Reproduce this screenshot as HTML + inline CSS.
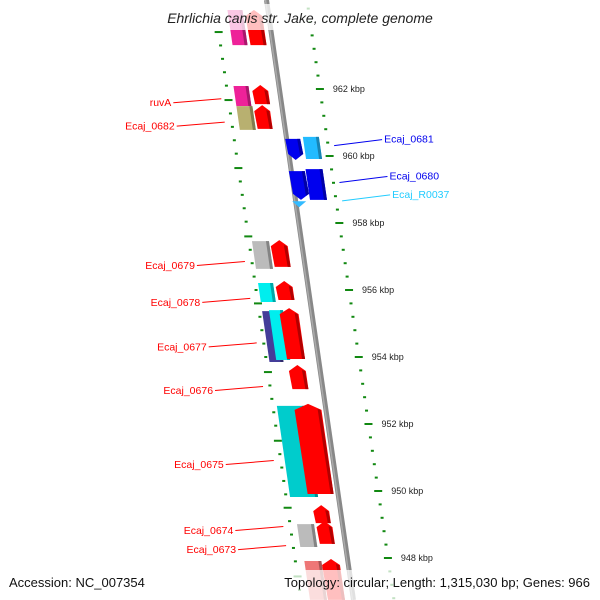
<!DOCTYPE html>
<html><head><meta charset="utf-8"><style>
html,body{margin:0;padding:0;background:#fff}
svg{display:block;font-family:"Liberation Sans","DejaVu Sans",sans-serif}
</style></head><body>
<svg id="map" width="600" height="600" viewBox="0 0 600 600">
<g id="ticks"></g>
<line id="backbone" x1="266.5" y1="0" x2="353.5" y2="600" stroke="#888" stroke-width="5"/>
<line x1="265.5" y1="0" x2="352.5" y2="600" stroke="#aaa" stroke-width="1.5"/>
<g id="feats"></g>
<g id="labels"></g>
<rect x="150" y="4" width="300" height="26" fill="#fff" opacity="0.75"/>
<text x="300" y="23" text-anchor="middle" font-size="14" font-style="italic" fill="#222">Ehrlichia canis str. Jake, complete genome</text>
<rect x="270" y="570" width="330" height="30" fill="#fff" opacity="0.75"/>
<text x="9" y="587" font-size="13" fill="#111">Accession: NC_007354</text>
<text x="590" y="587" text-anchor="end" font-size="13" fill="#111">Topology: circular; Length: 1,315,030 bp; Genes: 966</text>
</svg>
<script>
// data
const featNames=["top-gene-a","top-gene-b","ruvA","ruvA-partner","Ecaj_0682","Ecaj_0682-partner","Ecaj_0681","Ecaj_0681-partner","Ecaj_0680","Ecaj_0680-partner","Ecaj_R0037","Ecaj_0679","Ecaj_0679-partner","Ecaj_0678","Ecaj_0678-partner","Ecaj_0677-a","Ecaj_0677","Ecaj_0677-partner","Ecaj_0676","Ecaj_0675","Ecaj_0675-partner","Ecaj_0674","Ecaj_0673","Ecaj_0673-partner","bottom-gene-a","bottom-gene-b"];
const featStart=[964.36,964.36,962.09,962.12,961.49,961.52,960.51,960.57,959.55,959.61,958.65,957.46,957.49,956.21,956.27,955.37,955.40,955.46,953.76,952.54,952.60,949.58,949.01,949.10,947.91,947.97];
const featEnd=[963.31,963.31,961.49,961.55,960.78,960.81,959.88,959.91,958.69,958.69,958.50,956.63,956.69,955.64,955.70,953.85,953.91,953.94,953.04,949.82,949.91,949.04,948.33,948.42,946.75,946.75];
const featKind=["box","fwd","box","fwd","box","fwd","rev","box","rev","box","tri","box","fwd","box","fwd","box","box","fwd","fwd","box","fwd","fwd","box","fwd","box","fwd"];
const featColor=["#ee2299","#ff0000","#ee2299","#ff0000","#b8b070","#ff0000","#0000ee","#22bbff","#0000ee","#0000ee","#33bbff","#bbbbbb","#ff0000","#00eeee","#ff0000","#443d99","#00eeee","#ff0000","#ff0000","#00cccc","#ff0000","#ff0000","#bbbbbb","#ff0000","#ee7777","#ff0000"];
const laneOffset=[-38,-20,-43,-24,-43,-25,1,19,0,17,0,-47,-28,-47,-29,-47,-40,-29,-28,-46,-28,-24,-43,-23,-41,-23];
const laneWidth=[15,16,15,15,16,15,15,16,16,17,14,17,16,15,16,14,14,18,16,28,26,15,17,15,17,17];
const labelText=["ruvA","Ecaj_0682","Ecaj_0681","Ecaj_0680","Ecaj_R0037","Ecaj_0679","Ecaj_0678","Ecaj_0677","Ecaj_0676","Ecaj_0675","Ecaj_0674","Ecaj_0673"];
const labelKbp=[961.71,961.01,960.31,959.21,958.66,956.85,955.75,954.42,953.12,950.91,948.94,948.37];
const labelSide=["L","L","R","R","R","L","L","L","L","L","L","L"];
const labelColor=["#ff0000","#ff0000","#0000ee","#0000ee","#22ccff","#ff0000","#ff0000","#ff0000","#ff0000","#ff0000","#ff0000","#ff0000"];
const majorTicks=["962 kbp","960 kbp","958 kbp","956 kbp","954 kbp","952 kbp","950 kbp","948 kbp"];
const majorKbp=[962,960,958,956,954,952,950,948];
const leftMajorKbp=[963.7,961.67,959.64,957.6,955.6,953.55,951.5,949.5,947.45];

const NS="http://www.w3.org/2000/svg";
const yOf=k=>89+(962-k)*33.5;
const B=y=>264+0.145*y;
function mk(tag,attrs,parent){const e=document.createElementNS(NS,tag);for(const k in attrs)e.setAttribute(k,attrs[k]);parent.appendChild(e);return e;}
function shade(c,f){const n=parseInt(c.slice(1),16);let r=(n>>16)&255,g=(n>>8)&255,b=n&255;return `rgb(${Math.round(r*f)},${Math.round(g*f)},${Math.round(b*f)})`;}

// ticks
const tg=document.getElementById('ticks');
for(let k=964.4;k>=946.5;k-=0.4){
  const y=yOf(k);if(y<0||y>600)continue;
  const maj=majorKbp.some(m=>Math.abs(m-k)<0.05);
  const x=B(y)+43;
  const t=mk('rect',{x:maj?x-4:x-1.5,y:y-1,width:maj?8:3,height:2,fill:'#118811'},tg);
  
  
}
for(let i=0;i<majorKbp.length;i++){
  const y=yOf(majorKbp[i]);
  const t=mk('text',{x:B(y)+56,y:y+3,'font-size':9,fill:'#222'},tg);t.textContent=majorTicks[i];
  
  
}
for(let i=0;i<leftMajorKbp.length;i++){
  for(let j=0;j<5;j++){
    const y=yOf(leftMajorKbp[i]-j*0.4);if(y<0||y>600)continue;
    const x=B(y)-50;
    const t=mk('rect',{x:j?x-1.5:x-4,y:y-1,width:j?3:8,height:2,fill:'#118811'},tg);
    
    
  }
}
// features
const fg=document.getElementById('feats');
for(let i=0;i<featNames.length;i++){
  const y1=yOf(featStart[i]),y2=yOf(featEnd[i]);
  const a=B(y1)+laneOffset[i],b=B(y2)+laneOffset[i],w=laneWidth[i],c=featColor[i],kind=featKind[i];
  let pts;
  if(kind==='box')pts=[[a,y1],[a+w,y1],[b+w,y2],[b,y2]];
  else if(kind==='fwd'){const h=6,am=a+w/2+0.145*h/2;pts=[[a,y1+h],[am,y1],[a+w+0.9,y1+h],[b+w,y2],[b,y2]];}
  else if(kind==='rev'){const h=6;pts=[[a,y1],[a+w,y1],[b+w,y2-h],[b+w/2,y2],[b,y2-h]];}
  else pts=[[a-1,y1],[a+w-1,y1],[a+w/2-1,y2+1]];
  const p=mk('polygon',{points:pts.map(q=>q.join(',')).join(' '),fill:c},fg);
  
  
  if(kind!=='tri'){
    const s=mk('polygon',{points:[[a+w-3,y1+(kind==='fwd'?5:0)],[a+w,y1+(kind==='fwd'?6:0)],[b+w,y2-(kind==='rev'?6:0)],[b+w-3,y2-(kind==='rev'?4:0)]].map(q=>q.join(',')).join(' '),fill:shade(c,0.7)},fg);
    
    
  }
}
// labels
const lg=document.getElementById('labels');
for(let i=0;i<labelText.length;i++){
  const y=yOf(labelKbp[i]);
  let t,l;
  if(labelSide[i]==='L'){
    const xe=B(y)-57;
    l=mk('line',{x1:xe-48,y1:y+4,x2:xe,y2:y,stroke:labelColor[i],'stroke-width':1},lg);
    t=mk('text',{x:xe-50,y:y+7.5,'text-anchor':'end','font-size':10.5,fill:labelColor[i]},lg);
  }else{
    const xs=B(y)+49;
    l=mk('line',{x1:xs,y1:y,x2:xs+48,y2:y-6,stroke:labelColor[i],'stroke-width':1},lg);
    t=mk('text',{x:xs+50,y:y-3,'font-size':10.5,fill:labelColor[i]},lg);
  }
  t.textContent=labelText[i];
  
  
  
  
}
</script>
</body></html>
